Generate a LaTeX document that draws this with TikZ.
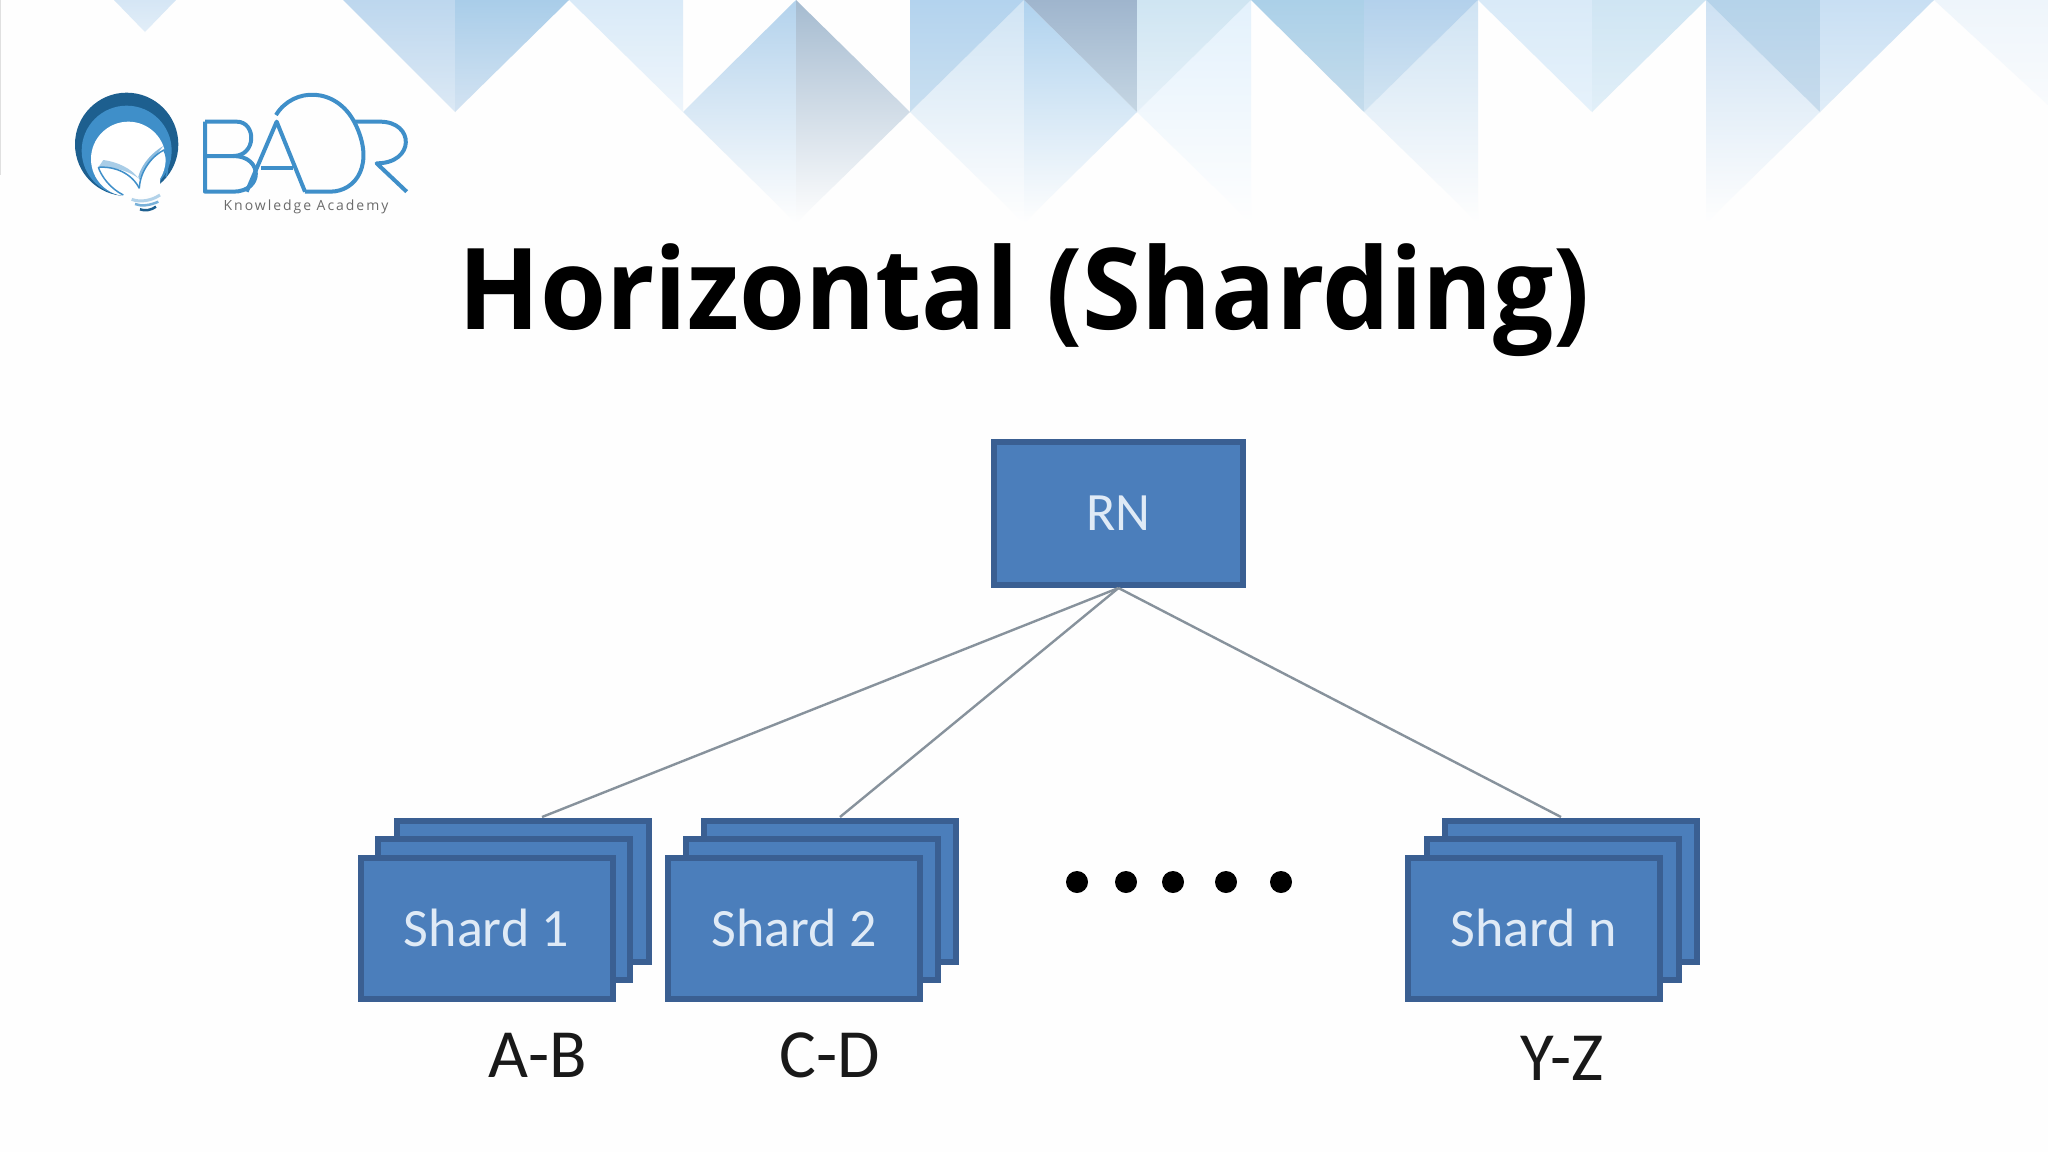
\documentclass[tikz,border=0pt]{standalone}
\usepackage{fontspec}
\setmainfont{Carlito}
\newfontfamily\titlefont{Open Sans}[BoldFont={Open Sans Bold},BoldFeatures={FakeStretch=0.945}]
\newfontfamily\logofont{Open Sans}[LetterSpace=14]
\usetikzlibrary{shapes.geometric}
\definecolor{boxfill}{HTML}{4B7EBB}
\definecolor{boxline}{HTML}{3A5F92}
\definecolor{linkc}{HTML}{87929C}
\definecolor{logoblue}{HTML}{3F8FC9}
\definecolor{logodark}{HTML}{1D5F8F}
\definecolor{labelc}{HTML}{DFEAF6}
\definecolor{w}{HTML}{FEFEFE}
\tikzset{
  boxbase/.style={draw=boxline,fill=boxfill,line width=6pt,inner sep=0pt,text=labelc,font=\fontsize{54}{60}\selectfont},
  shardbox/.style={boxbase,minimum width=252pt,minimum height=141pt},
  rootbox/.style={boxbase,minimum width=249pt,minimum height=143pt},
  link/.style={draw=linkc,line width=2.4pt},
  rangelabel/.style={text=black!90,font=\fontsize{69}{76}\selectfont,inner sep=0pt},
  dotmark/.style={circle,fill=black,inner sep=0pt,minimum size=22pt},
  logoline/.style={draw=logoblue,line width=4pt,line join=round},
  bookline/.style={draw=logoblue,line width=1.5pt},
}
\newcommand{\tri}[3]{\definecolor{tritop}{HTML}{#2}\definecolor{tribot}{HTML}{#3}\shade[top color=tritop,bottom color=tribot] #1 -- cycle;}
\begin{document}
\begin{tikzpicture}[x=1pt,y=-1pt]
\useasboundingbox (0,0) rectangle (2048,1152);
\fill[w] (0,0) rectangle (2048,1152);
\draw[black!12,line width=2pt] (0,0) -- (0,175);
% background: fading lower triangles first
\tri{(1024,0) -- (910,112) -- (1024,223)}{D0E4F4}{FEFEFE}
\tri{(796,0) -- (683,112) -- (796,223)}{B3D2EC}{FEFEFE}
\tri{(796,0) -- (910,112) -- (796,223)}{A5BBD0}{FEFEFE}
\tri{(1024,0) -- (1137,112) -- (1024,223)}{AFD2EE}{FEFEFE}
\tri{(1251,0) -- (1137,112) -- (1251,223)}{E3F1FC}{FEFEFE}
\tri{(1478,0) -- (1364,112) -- (1478,223)}{CFE3F3}{FEFEFE}
\tri{(1706,0) -- (1820,112) -- (1706,223)}{CDE1F3}{FEFEFE}
% upper triangles
\tri{(114,0) -- (176,0) -- (145,32)}{D5E6F5}{E2EEF8}
\tri{(343,0) -- (455,0) -- (455,112)}{BDD7EE}{DCE9F5}
\tri{(455,0) -- (569,0) -- (455,112)}{A9CDE9}{D3E3F2}
\tri{(569,0) -- (683,0) -- (683,112)}{D9EAF8}{EEF5FB}
\tri{(910,0) -- (1024,0) -- (910,112)}{B3D3EE}{C9DFF0}
\tri{(1024,0) -- (1137,0) -- (1137,112)}{9FB5CD}{C5D6E3}
\tri{(1137,0) -- (1251,0) -- (1137,112)}{CFE5F2}{E6F1F9}
\tri{(1251,0) -- (1364,0) -- (1364,112)}{ABD0E8}{C5DCEC}
\tri{(1364,0) -- (1478,0) -- (1364,112)}{B3D1EC}{D3E5F2}
\tri{(1478,0) -- (1592,0) -- (1592,112)}{D9EAF8}{E6F2FB}
\tri{(1592,0) -- (1706,0) -- (1592,112)}{CFE5F3}{E1EFF8}
\tri{(1706,0) -- (1820,0) -- (1820,112)}{B5D3EA}{C7DBEC}
\tri{(1820,0) -- (1934,0) -- (1820,112)}{C8DFF3}{E0EDF8}
\tri{(1934,0) -- (2048,0) -- (2048,105)}{EEF5FB}{F9FBFD}
% logo
\begin{scope}[shift={(60,80)},x=0.33333pt,y=-0.33333pt]
  \fill[logodark] (200,193) circle[radius=155];
  \fill[logoblue] (200,212) circle[radius=135];
  \fill[white] (205,237) circle[radius=112];
  \fill[white] (190,352) -- (202,300) -- (300,290) -- (300,332) .. controls (270,350) and (230,356) .. (190,352) -- cycle;
  % book
  \fill[logoblue!45] (130,240) .. controls (170,245) and (215,265) .. (235,295) .. controls (215,278) and (165,258) .. (115,262) -- cycle;
  \fill[logoblue!60] (235,290) .. controls (245,250) and (280,215) .. (310,198) .. controls (290,225) and (260,250) .. (238,300) -- cycle;
  \draw[bookline] (115,262) .. controls (165,258) and (215,280) .. (238,325);
  \draw[bookline] (238,325) .. controls (240,270) and (280,225) .. (312,210) .. controls (325,240) and (325,270) .. (318,290);
  \draw[bookline] (115,262) .. controls (125,290) and (150,325) .. (190,345);
  % base
  \draw[logoblue!40,line width=3pt] (215,358) .. controls (240,368) and (275,362) .. (300,345);
  \draw[logoblue!70,line width=2.5pt] (225,372) .. controls (245,380) and (270,376) .. (295,365);
  \draw[logodark,line width=2.5pt] (240,388) .. controls (255,394) and (275,390) .. (288,380);
  % letters
  \draw[logoline] (435,125) -- (530,125) .. controls (590,125) and (590,228) .. (520,228) -- (435,228);
  \draw[logoline] (520,228) .. controls (610,228) and (610,335) .. (520,335) -- (435,335) -- (435,125);
  \draw[logoline] (560,335) -- (650,125) -- (735,335);
  \draw[logoline] (603,265) -- (700,265);
  \draw[logoline] (648,105) .. controls (700,20) and (830,20) .. (885,130) .. controls (945,250) and (890,335) .. (810,335) -- (735,335);
  \draw[logoline] (885,125) -- (960,125) .. controls (1065,125) and (1065,250) .. (950,250) -- (1040,335);
\end{scope}
\node[inner sep=0pt,text=black!58,font=\logofont\fontsize{14}{16}\selectfont] (tagline) at (306,207) {Knowledge Academy};
% title
\node[anchor=base,inner sep=0pt,font=\titlefont\bfseries\fontsize{113}{130}\selectfont] (title) at (1024,329) {Horizontal (Sharding)};
% boxes
\node[rootbox] (rn) at (1118.5,513.5) {RN};
\coordinate (t1) at (542,817);
\coordinate (t2) at (840,817);
\coordinate (t3) at (1561,817);
\draw[link] (rn.south) -- (t1);
\draw[link] (rn.south) -- (t2);
\draw[link] (rn.south) -- (t3);
\node[shardbox] (back1) at (523,891.5) {};
\node[shardbox] (mid1) at (503.5,909.5) {};
\node[shardbox] (front1) at (486.5,928) {Shard 1};
\node[shardbox] (back2) at (830,891.5) {};
\node[shardbox] (mid2) at (812,909.5) {};
\node[shardbox] (front2) at (794,928) {Shard 2};
\node[shardbox] (back3) at (1571,891.5) {};
\node[shardbox] (mid3) at (1553,909.5) {};
\node[shardbox] (front3) at (1533.5,928) {Shard n};
\node[dotmark] (d1) at (1077,882) {};
\node[dotmark] (d2) at (1126,882) {};
\node[dotmark] (d3) at (1173,882) {};
\node[dotmark] (d4) at (1226,882) {};
\node[dotmark] (d5) at (1281,882) {};
\node[rangelabel] (l1) at (538,1055) {A-B};
\node[rangelabel] (l2) at (830,1055) {C-D};
\node[rangelabel] (l3) at (1562,1058) {Y-Z};
\end{tikzpicture}
\end{document}
